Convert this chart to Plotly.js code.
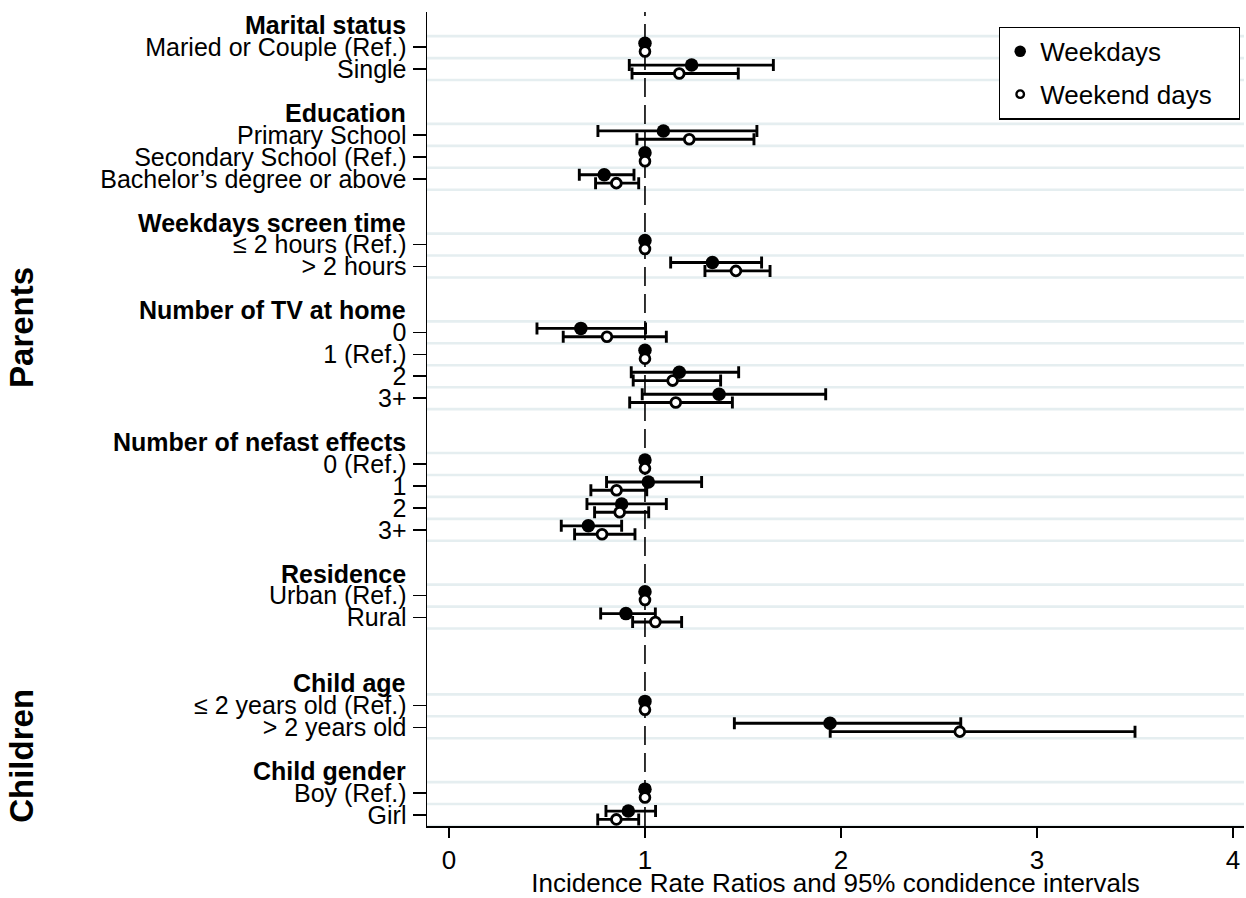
<!DOCTYPE html>
<html>
<head>
<meta charset="utf-8">
<script src="https://cdn.plot.ly/plotly-3.0.1.min.js"></script>
<style>html,body{margin:0;padding:0;background:#fff;}</style>
</head>
<body>
<div id="chart" style="width:1246px;height:898px;"></div>
<script>
// ---- Data ----
const sections = ['Parents', 'Children'];
const groupHeaders = ['Marital status', 'Education', 'Weekdays screen time', 'Number of TV at home',
  'Number of nefast effects', 'Residence', 'Child age', 'Child gender'];
const groupSection = ['Parents', 'Parents', 'Parents', 'Parents', 'Parents', 'Parents', 'Children', 'Children'];
const groupItems = [
  ['Maried or Couple (Ref.)', 'Single'],
  ['Primary School', 'Secondary School (Ref.)', 'Bachelor’s degree or above'],
  ['≤ 2 hours (Ref.)', '> 2 hours'],
  ['0', '1 (Ref.)', '2', '3+'],
  ['0 (Ref.)', '1', '2', '3+'],
  ['Urban (Ref.)', 'Rural'],
  ['≤ 2 years old (Ref.)', '> 2 years old'],
  ['Boy (Ref.)', 'Girl']
];
// Weekdays IRR and 95% CI (null CI = reference category)
const weekdayIRR = [1, 1.238, 1.094, 1, 0.792, 1, 1.344, 0.673, 1, 1.175, 1.378, 1, 1.017, 0.881, 0.711, 1, 0.903, 1, 1.944, 1, 0.915];
const weekdayLow = [null, 0.920, 0.760, null, 0.665, null, 1.131, 0.449, null, 0.930, 0.986, null, 0.804, 0.704, 0.573, null, 0.774, null, 1.456, null, 0.801];
const weekdayHigh = [null, 1.655, 1.571, null, 0.944, null, 1.595, 1.003, null, 1.478, 1.922, null, 1.289, 1.109, 0.881, null, 1.053, null, 2.611, null, 1.054];
// Weekend days IRR and 95% CI
const weekendIRR = [1, 1.175, 1.226, 1, 0.854, 1, 1.464, 0.806, 1, 1.141, 1.157, 1, 0.855, 0.871, 0.781, 1, 1.053, 1, 2.606, 1, 0.854];
const weekendLow = [null, 0.934, 0.959, null, 0.748, null, 1.306, 0.583, null, 0.940, 0.922, null, 0.724, 0.743, 0.641, null, 0.937, null, 1.945, null, 0.759];
const weekendHigh = [null, 1.476, 1.556, null, 0.968, null, 1.638, 1.109, null, 1.386, 1.446, null, 1.009, 1.019, 0.949, null, 1.187, null, 3.500, null, 0.968];
const xTicks = [0, 1, 2, 3, 4];
const xTitle = 'Incidence Rate Ratios and 95% condidence intervals';
const seriesNames = ['Weekdays', 'Weekend days'];

// ---- Row layout (category positions on the y axis) ----
const FONT = 'Liberation Sans, Arial, sans-serif';
const rowPos = [], rowLabels = [], headerPos = [];
let pos = -3, prevSection = null;
groupHeaders.forEach((h, g) => {
  pos += 2;
  if (prevSection !== null && groupSection[g] !== prevSection) pos += 1;
  prevSection = groupSection[g];
  headerPos.push(pos);
  groupItems[g].forEach(lbl => {
    pos += 1;
    rowPos.push(pos); rowLabels.push(lbl);
  });
});
const lastRow = rowPos[rowPos.length - 1];

function errs(v, lo, hi) {
  return {
    plus: v.map((d, i) => hi[i] == null ? NaN : hi[i] - d),
    minus: v.map((d, i) => lo[i] == null ? NaN : d - lo[i])
  };
}
const eWd = errs(weekdayIRR, weekdayLow, weekdayHigh);
const eWe = errs(weekendIRR, weekendLow, weekendHigh);

const traces = [
  {
    type: 'scatter', mode: 'markers', name: seriesNames[0], showlegend: false,
    x: weekdayIRR, y: rowPos.map(p => p - 0.18),
    marker: {symbol: 'circle', size: 13.5, color: '#000'},
    error_x: {type: 'data', symmetric: false, array: eWd.plus, arrayminus: eWd.minus,
      color: '#000', thickness: 2.9, width: 6},
    hoverinfo: 'x'
  },
  {
    type: 'scatter', mode: 'markers', name: seriesNames[1], showlegend: false,
    x: weekendIRR, y: rowPos.map(p => p + 0.2),
    marker: {symbol: 'circle', size: 9.8, color: '#fff', line: {color: '#000', width: 2.8}},
    error_x: {type: 'data', symmetric: false, array: eWe.plus, arrayminus: eWe.minus,
      color: '#000', thickness: 2.9, width: 6},
    hoverinfo: 'x'
  },
  // legend entries
  {type: 'scatter', mode: 'markers', name: seriesNames[0], x: [null], y: [null], legendgroup: 'a',
    marker: {symbol: 'circle', size: 11.5, color: '#000'}},
  {type: 'scatter', mode: 'markers', name: seriesNames[1] + '\u00a0\u00a0\u00a0', x: [null], y: [null], legendgroup: 'b',
    marker: {symbol: 'circle', size: 7.5, color: '#fff', line: {color: '#000', width: 2.4}}}
];

// light gridlines around each item row
const shapes = [];
const gridYs = new Set();
rowPos.forEach(p => { gridYs.add(p - 0.5); gridYs.add(p + 0.5); });
[...gridYs].forEach(y => shapes.push({
  type: 'line', layer: 'below', xref: 'paper', x0: 0, x1: 1, yref: 'y', y0: y, y1: y,
  line: {color: '#e5eef0', width: 2.6}
}));
shapes.push({type: 'line', layer: 'below', xref: 'x', x0: 1, x1: 1, yref: 'paper', y0: 0, y1: 1,
  line: {color: '#000', width: 1.6, dash: '19px,8px'}});

const annotations = [];
groupHeaders.forEach((h, g) => annotations.push({
  xref: 'paper', x: 0, yref: 'y', y: headerPos[g], xanchor: 'right', yanchor: 'middle',
  xshift: -19, text: '<b>' + h + '</b>', showarrow: false,
  font: {family: FONT, size: 25, color: '#000'}
}));
const sectionCenters = {Parents: 12.8, Children: 32.3};
sections.forEach(s => annotations.push({
  xref: 'paper', x: 0, xshift: -405, yref: 'y', y: sectionCenters[s], xanchor: 'center', yanchor: 'middle',
  text: '<b>' + s + '</b>', textangle: -90, showarrow: false,
  font: {family: FONT, size: 33, color: '#000'}
}));

const layout = {
  width: 1246, height: 898,
  margin: {l: 427, r: 2, t: 12, b: 72, pad: 0},
  paper_bgcolor: '#fff', plot_bgcolor: '#fff',
  font: {family: FONT, color: '#000'},
  showlegend: true,
  legend: {
    x: 0.7, y: 0.982, xanchor: 'left', yanchor: 'top',
    bgcolor: '#fff', bordercolor: '#000', borderwidth: 1.3,
    font: {family: FONT, size: 26, color: '#000'},
    traceorder: 'grouped', tracegroupgap: 6
  },
  xaxis: {
    range: [-0.112, 4.056], tickvals: xTicks, ticktext: xTicks.map(String),
    showgrid: false, zeroline: false, showline: true, linecolor: '#000', linewidth: 1.5,
    ticks: 'outside', ticklen: 10, tickwidth: 1.5, tickcolor: '#000',
    tickfont: {family: FONT, size: 26, color: '#000'},
    title: {text: xTitle, font: {family: FONT, size: 26, color: '#000'}, standoff: 4}
  },
  yaxis: {
    range: [lastRow + 0.5, -1.6], tickvals: rowPos, ticktext: rowLabels,
    showgrid: false, zeroline: false, showline: true, linecolor: '#000', linewidth: 1.5,
    ticks: 'outside', ticklen: 13, tickwidth: 1.5, tickcolor: '#000',
    ticklabelstandoff: 1,
    tickfont: {family: FONT, size: 25, color: '#000'}
  },
  shapes: shapes,
  annotations: annotations
};

Plotly.newPlot('chart', traces, layout, {displayModeBar: false, staticPlot: true});
</script>
</body>
</html>
